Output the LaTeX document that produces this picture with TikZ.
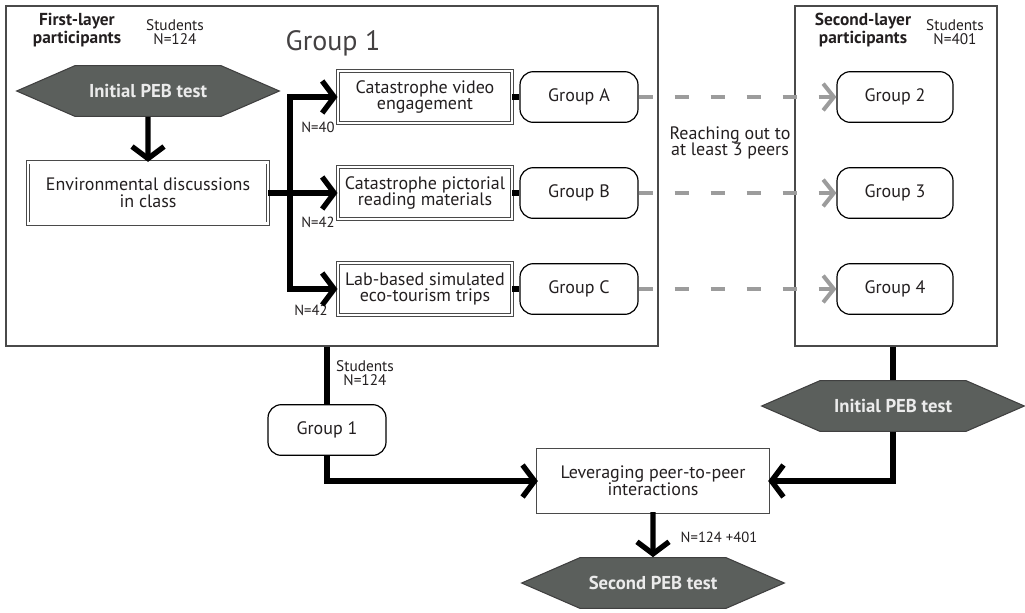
\documentclass[tikz,border=0pt]{standalone}
\usepackage{fontspec}
\setmainfont{PT Sans}
\usetikzlibrary{arrows.meta,shapes.symbols}

\definecolor{hexgray}{HTML}{5B5F5C}
\definecolor{linegray}{HTML}{4A4A4A}
\definecolor{dashgray}{HTML}{9C9C9C}
\definecolor{txt}{HTML}{231F20}

\tikzset{
    layerbox/.style={draw=linegray, line width=1pt, inner sep=0pt},
    pebtest/.style={signal, signal to=east and west, signal pointer angle=47,
        draw=black!75, line width=0.8pt, fill=hexgray, text=white!92!black,
        font=\fontsize{14}{14}\selectfont\bfseries,
        minimum width=197pt, minimum height=38pt, inner sep=0pt},
    activity/.style={draw=linegray, double, double distance=1.8pt, line width=0.7pt,
        align=center, font=\fontsize{13.5}{12.5}\selectfont, inner sep=0pt},
    grp/.style={draw=black, line width=0.9pt, rounded corners=10pt,
        minimum width=88.5pt, minimum height=38pt, font=\fontsize{13.5}{13}\selectfont},
    flow/.style={line width=4pt, >={Straight Barb[length=9pt,width=24pt]}},
    link/.style={line width=4pt},
    reach/.style={dashgray, line width=3pt, dash pattern=on 11pt off 16pt,
        -{Straight Barb[length=8pt,width=20pt]}},
    note/.style={font=\fontsize{11.5}{10.5}\selectfont, align=center, inner sep=0pt},
    head/.style={font=\fontsize{13}{11}\selectfont\bfseries, align=center, inner sep=0pt}
}

\begin{document}
\begin{tikzpicture}[x=0.75pt, y=-0.75pt, every node/.append style={text=txt}]
    \useasboundingbox (0,0) rectangle (1025,612);
    \node[layerbox, minimum width=489pt, minimum height=255pt] (layer1) at (332,176) {};
    \node[layerbox, minimum width=151.5pt, minimum height=255pt] (layer2) at (896,176) {};
    \node[head] (head1) at (77,30) {First-layer\\participants};
    \node[note] (num1) at (175,32) {Students\\N=124};
    \node[font=\fontsize{21}{21}\selectfont, text=txt!85] (title1) at (333,43) {Group 1};
    \node[head] (head2) at (863,30) {Second-layer\\participants};
    \node[note] (num2) at (955,32) {Students\\N=401};

    \node[pebtest] (test1) at (148,91) {Initial PEB test};
    \node[activity, minimum width=180pt, minimum height=46pt] (discuss) at (148,193)
        {Environmental discussions\\in class};
    \draw[flow, ->] (test1) -- (discuss);

    \coordinate (bus) at (290,193);
    \foreach \k/\y/\what/\n/\nx/\ny/\g in {
        A/97/{Catastrophe video\\engagement}/40/318/127/2,
        B/193/{Catastrophe pictorial\\reading materials}/42/318/222/3,
        C/289/{Lab-based simulated\\eco-tourism trips}/42/311/310/4} {
        \node[activity, minimum width=130.5pt, minimum height=39pt] (act\k) at (425,\y) {\what};
        \node[grp] (grp\k) at (579,\y) {Group \k};
        \node[grp, minimum width=87pt] (grp\g) at (895,\y) {Group \g};
        \node[note, font=\fontsize{11}{11}\selectfont] (size\k) at (\nx,\ny) {N=\n};
        \draw[link] (act\k) -- (grp\k);
        \draw[reach] (grp\k) -- (grp\g);
    }
    \draw[flow, <->] (actA.west) -- (bus |- actA) -- (bus |- actC) -- (actC.west);
    \draw[flow, ->] (discuss.east) -- (actB.west);
    \node[font=\fontsize{13.5}{12.5}\selectfont, align=center] (reachtxt) at (730,143)
        {Reaching out to\\at least 3 peers};

    \node[grp] (grp1) at (327,430) {Group 1};
    \node[note] (num3) at (365,373) {Students\\N=124};
    \node[activity, minimum width=172pt, minimum height=46pt] (peer) at (653,481)
        {Leveraging peer-to-peer\\interactions};
    \node[pebtest] (test2) at (893,406) {Initial PEB test};
    \node[pebtest] (test3) at (653,583) {Second PEB test};
    \node[note, font=\fontsize{11}{11}\selectfont] (num4) at (719,537) {N=124 +401};
    \draw[link] (grp1.north |- layer1.south) -- (grp1.north);
    \draw[flow, ->] (grp1.south) |- (peer.west);
    \draw[link] (test2.north |- layer2.south) -- (test2.north);
    \draw[flow, ->] (test2.south) |- (peer.east);
    \draw[flow, ->] (peer) -- (test3);
\end{tikzpicture}
\end{document}
